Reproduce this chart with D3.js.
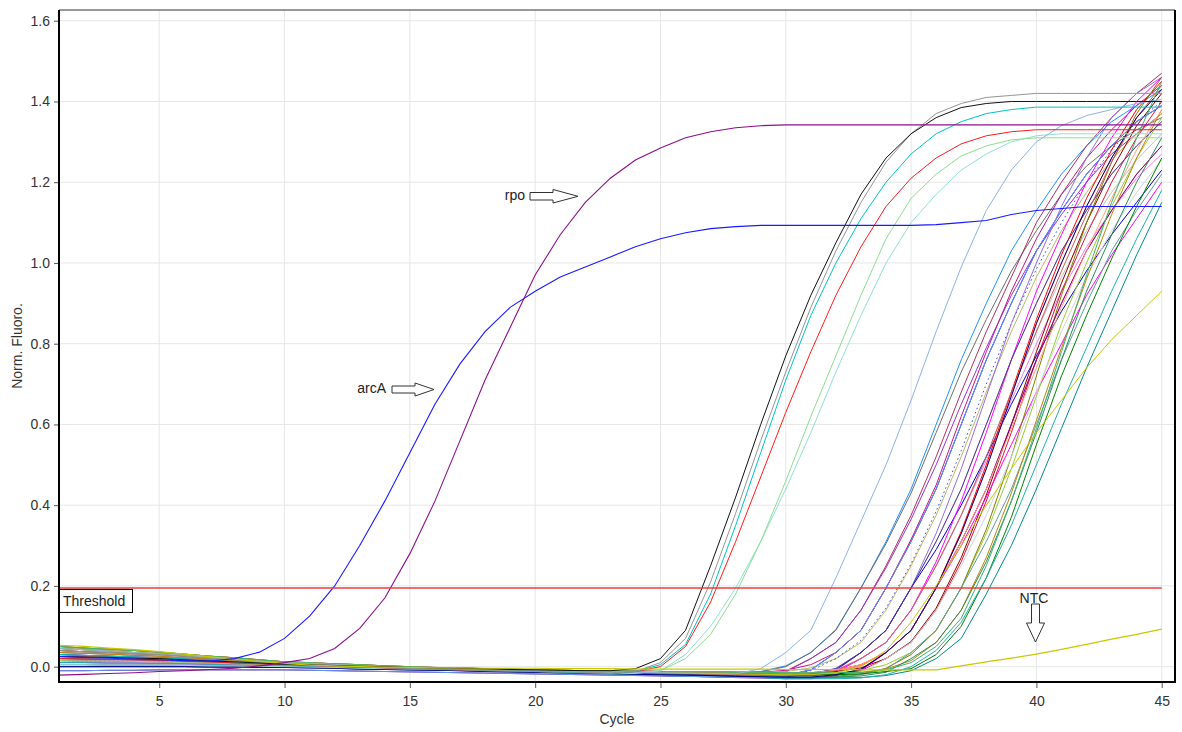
<!DOCTYPE html>
<html><head><meta charset="utf-8">
<script src="https://cdn.jsdelivr.net/npm/d3@7"></script>
<style>
body{margin:0;background:#fff;}
text{font-family:"Liberation Sans",Arial,sans-serif;}
</style>
</head><body>
<svg id="chart" width="1182" height="732"></svg>
<script>
// ---------------- data ----------------
const cycles = [1,2,3,4,5,6,7,8,9,10,11,12,13,14,15,16,17,18,19,20,21,22,23,24,25,26,27,28,29,30,31,32,33,34,35,36,37,38,39,40,41,42,43,44,45];
const xTicks = [5,10,15,20,25,30,35,40,45];
const yTicks = [0,0.2,0.4,0.6,0.8,1.0,1.2,1.4,1.6];
const thresholdValue = 0.195;

const arcA = [0.025,0.023,0.021,0.019,0.017,0.015,0.014,0.02,0.036,0.07,0.125,0.2,0.3,0.41,0.53,0.65,0.75,0.83,0.89,0.93,0.965,0.99,1.015,1.04,1.06,1.075,1.085,1.09,1.093,1.093,1.093,1.093,1.093,1.093,1.093,1.095,1.1,1.105,1.12,1.13,1.135,1.14,1.14,1.14,1.14];
const rpo = [-0.021,-0.019,-0.017,-0.015,-0.012,-0.01,-0.007,-0.004,0.002,0.01,0.02,0.045,0.095,0.17,0.28,0.41,0.56,0.71,0.84,0.97,1.07,1.15,1.21,1.255,1.285,1.31,1.325,1.335,1.34,1.342,1.342,1.342,1.342,1.342,1.342,1.342,1.342,1.342,1.342,1.342,1.342,1.342,1.342,1.342,1.342];
const ntc = [0.053,0.05,0.046,0.042,0.037,0.031,0.025,0.019,0.013,0.008,0.004,0.002,0.0,-0.001,-0.002,-0.003,-0.003,-0.004,-0.004,-0.004,-0.005,-0.005,-0.005,-0.006,-0.006,-0.006,-0.006,-0.006,-0.006,-0.007,-0.007,-0.007,-0.008,-0.008,-0.008,-0.008,0.002,0.012,0.021,0.031,0.043,0.055,0.068,0.08,0.093];

// middle group
const mBlack = [0.025,0.024,0.023,0.021,0.02,0.017,0.014,0.012,0.009,0.006,0.004,0.003,0.001,0.0,-0.002,-0.003,-0.004,-0.005,-0.007,-0.008,-0.009,-0.01,-0.01,-0.005,0.02,0.09,0.25,0.42,0.6,0.77,0.92,1.05,1.17,1.26,1.32,1.36,1.385,1.395,1.4,1.4,1.4,1.4,1.4,1.4,1.4];
const mGray = [0.04,0.037,0.035,0.032,0.03,0.026,0.021,0.017,0.012,0.008,0.006,0.003,0.0,-0.002,-0.004,-0.006,-0.007,-0.009,-0.01,-0.012,-0.013,-0.014,-0.016,-0.012,0.01,0.07,0.21,0.38,0.56,0.73,0.89,1.03,1.15,1.25,1.32,1.37,1.395,1.41,1.415,1.42,1.42,1.42,1.42,1.42,1.42];
const mCyan = [0.03,0.028,0.026,0.024,0.022,0.019,0.016,0.012,0.009,0.006,0.004,0.002,0.0,-0.002,-0.004,-0.006,-0.007,-0.009,-0.01,-0.012,-0.014,-0.015,-0.017,-0.012,0.005,0.055,0.18,0.35,0.53,0.71,0.87,1.0,1.11,1.2,1.27,1.32,1.35,1.37,1.38,1.386,1.386,1.386,1.386,1.386,1.386];
const mRed = [0.02,0.019,0.018,0.017,0.016,0.014,0.012,0.009,0.007,0.005,0.003,0.001,-0.001,-0.003,-0.005,-0.006,-0.008,-0.009,-0.011,-0.012,-0.014,-0.015,-0.017,-0.012,0.0,0.05,0.16,0.31,0.47,0.63,0.78,0.92,1.04,1.14,1.21,1.26,1.295,1.315,1.325,1.33,1.33,1.33,1.33,1.33,1.33];
const mGreen = [0.015,0.014,0.014,0.013,0.012,0.01,0.009,0.007,0.006,0.004,0.003,0.001,0.0,-0.002,-0.003,-0.004,-0.006,-0.007,-0.009,-0.01,-0.011,-0.012,-0.014,-0.015,-0.01,0.02,0.08,0.18,0.31,0.46,0.62,0.77,0.92,1.06,1.16,1.22,1.265,1.29,1.305,1.31,1.31,1.31,1.31,1.31,1.31];
const mPale = [0.005,0.005,0.004,0.004,0.004,0.003,0.002,0.002,0.001,0.0,-0.001,-0.002,-0.004,-0.005,-0.006,-0.007,-0.008,-0.01,-0.011,-0.012,-0.013,-0.015,-0.016,-0.017,-0.01,0.03,0.1,0.195,0.31,0.44,0.58,0.73,0.87,1.0,1.1,1.17,1.23,1.27,1.3,1.315,1.32,1.32,1.32,1.32,1.32];
const mSteel = [0.045,0.042,0.039,0.035,0.032,0.028,0.023,0.019,0.014,0.01,0.008,0.005,0.003,0.0,-0.002,-0.004,-0.005,-0.007,-0.008,-0.01,-0.011,-0.012,-0.013,-0.014,-0.015,-0.016,-0.017,-0.018,-0.005,0.035,0.09,0.22,0.36,0.5,0.66,0.83,0.99,1.13,1.23,1.3,1.34,1.365,1.38,1.395,1.405];

// late group
const L01 = [0.035,0.033,0.031,0.028,0.026,0.022,0.019,0.015,0.012,0.008,0.006,0.004,0.001,-0.001,-0.003,-0.004,-0.006,-0.007,-0.009,-0.01,-0.011,-0.012,-0.013,-0.014,-0.015,-0.016,-0.016,-0.017,-0.012,0.002,0.035,0.09,0.195,0.31,0.44,0.6,0.76,0.9,1.03,1.13,1.22,1.29,1.35,1.39,1.43];
const L02 = [0.045,0.042,0.039,0.035,0.032,0.028,0.023,0.019,0.014,0.01,0.008,0.005,0.003,0.0,-0.002,-0.004,-0.005,-0.007,-0.008,-0.01,-0.011,-0.012,-0.013,-0.014,-0.015,-0.016,-0.017,-0.018,-0.013,0.0,0.035,0.092,0.195,0.305,0.43,0.58,0.73,0.86,0.98,1.08,1.17,1.24,1.29,1.33,1.36];
const L03 = [0.04,0.037,0.035,0.032,0.03,0.026,0.021,0.017,0.012,0.008,0.006,0.003,0.0,-0.002,-0.004,-0.006,-0.007,-0.009,-0.01,-0.012,-0.013,-0.014,-0.016,-0.017,-0.018,-0.019,-0.02,-0.022,-0.02,-0.011,0.02,0.06,0.14,0.25,0.375,0.52,0.68,0.83,0.965,1.1,1.2,1.29,1.36,1.42,1.47];
const L04 = [0.03,0.028,0.026,0.024,0.022,0.019,0.016,0.012,0.009,0.006,0.004,0.002,0.0,-0.002,-0.004,-0.006,-0.007,-0.009,-0.01,-0.012,-0.014,-0.015,-0.017,-0.018,-0.02,-0.021,-0.022,-0.024,-0.022,-0.013,0.02,0.06,0.14,0.245,0.365,0.5,0.65,0.79,0.92,1.03,1.12,1.2,1.27,1.32,1.37];
const L05 = [0.02,0.019,0.018,0.017,0.016,0.014,0.012,0.009,0.007,0.005,0.003,0.001,-0.001,-0.003,-0.005,-0.006,-0.008,-0.009,-0.011,-0.012,-0.014,-0.015,-0.017,-0.018,-0.02,-0.022,-0.023,-0.025,-0.026,-0.022,-0.008,0.035,0.09,0.195,0.31,0.44,0.6,0.76,0.9,1.03,1.13,1.22,1.29,1.35,1.39];
const L06 = [0.05,0.046,0.043,0.04,0.036,0.031,0.026,0.022,0.017,0.012,0.01,0.007,0.005,0.002,0.0,-0.002,-0.003,-0.005,-0.006,-0.008,-0.009,-0.01,-0.01,-0.011,-0.012,-0.013,-0.013,-0.014,-0.014,-0.009,0.005,0.035,0.09,0.195,0.315,0.45,0.62,0.78,0.93,1.06,1.17,1.26,1.33,1.39,1.44];
const L07 = [0.025,0.024,0.023,0.021,0.02,0.017,0.014,0.012,0.009,0.006,0.004,0.003,0.001,0.0,-0.002,-0.003,-0.004,-0.005,-0.007,-0.008,-0.009,-0.01,-0.01,-0.011,-0.012,-0.013,-0.013,-0.014,-0.014,-0.012,-0.003,0.02,0.06,0.14,0.25,0.375,0.52,0.68,0.83,0.965,1.08,1.175,1.255,1.32,1.37];
const L08 = [0.015,0.014,0.014,0.013,0.012,0.01,0.009,0.007,0.006,0.004,0.003,0.001,0.0,-0.002,-0.003,-0.004,-0.006,-0.007,-0.009,-0.01,-0.011,-0.012,-0.014,-0.015,-0.016,-0.017,-0.018,-0.02,-0.021,-0.019,-0.01,0.02,0.065,0.145,0.255,0.385,0.535,0.7,0.85,0.985,1.1,1.2,1.28,1.35,1.4];
const L09 = [0.01,0.01,0.009,0.009,0.008,0.007,0.006,0.004,0.003,0.002,0.0,-0.001,-0.003,-0.004,-0.005,-0.007,-0.009,-0.011,-0.012,-0.014,-0.016,-0.017,-0.019,-0.02,-0.022,-0.024,-0.025,-0.027,-0.028,-0.03,-0.024,-0.01,0.035,0.09,0.195,0.31,0.44,0.6,0.76,0.9,1.03,1.13,1.22,1.29,1.35];
const L10 = [0.04,0.037,0.035,0.032,0.03,0.026,0.021,0.017,0.012,0.008,0.006,0.003,0.0,-0.002,-0.004,-0.006,-0.007,-0.009,-0.01,-0.012,-0.013,-0.014,-0.016,-0.017,-0.018,-0.019,-0.02,-0.022,-0.023,-0.024,-0.018,-0.004,0.035,0.09,0.195,0.33,0.49,0.67,0.85,1.0,1.14,1.26,1.36,1.42,1.46];
const L11 = [0.005,0.005,0.004,0.004,0.004,0.003,0.002,0.002,0.001,0.0,-0.001,-0.002,-0.004,-0.005,-0.006,-0.007,-0.008,-0.01,-0.011,-0.012,-0.013,-0.015,-0.016,-0.017,-0.018,-0.019,-0.021,-0.022,-0.024,-0.025,-0.022,-0.013,0.02,0.06,0.14,0.25,0.375,0.52,0.68,0.83,0.965,1.08,1.175,1.255,1.32];
const L12 = [0.0,0.0,0.0,0.0,0.0,0.0,-0.001,-0.001,-0.002,-0.002,-0.003,-0.004,-0.006,-0.007,-0.008,-0.009,-0.01,-0.012,-0.013,-0.014,-0.015,-0.016,-0.017,-0.019,-0.02,-0.021,-0.022,-0.024,-0.025,-0.026,-0.02,-0.008,0.035,0.09,0.195,0.29,0.4,0.52,0.65,0.77,0.88,0.98,1.07,1.15,1.23];
const L13 = [0.03,0.028,0.026,0.024,0.022,0.019,0.016,0.012,0.009,0.006,0.004,0.002,0.0,-0.002,-0.004,-0.006,-0.007,-0.009,-0.01,-0.012,-0.014,-0.015,-0.017,-0.018,-0.02,-0.021,-0.022,-0.024,-0.025,-0.026,-0.023,-0.014,0.02,0.06,0.14,0.26,0.41,0.58,0.76,0.93,1.07,1.2,1.31,1.4,1.46];
const L14 = [0.045,0.042,0.039,0.035,0.032,0.028,0.023,0.019,0.014,0.01,0.008,0.005,0.003,0.0,-0.002,-0.004,-0.005,-0.007,-0.008,-0.01,-0.011,-0.012,-0.013,-0.014,-0.015,-0.016,-0.017,-0.018,-0.019,-0.02,-0.017,-0.008,0.02,0.06,0.14,0.25,0.375,0.51,0.66,0.8,0.93,1.04,1.13,1.21,1.27];
const L15 = [0.02,0.019,0.018,0.017,0.016,0.014,0.012,0.009,0.007,0.005,0.003,0.001,-0.001,-0.003,-0.005,-0.006,-0.008,-0.009,-0.011,-0.012,-0.014,-0.015,-0.017,-0.018,-0.02,-0.022,-0.023,-0.025,-0.026,-0.028,-0.028,-0.022,-0.008,0.035,0.09,0.195,0.31,0.44,0.6,0.76,0.9,1.03,1.13,1.22,1.29];
const L16 = [0.035,0.033,0.031,0.028,0.026,0.022,0.019,0.015,0.012,0.008,0.006,0.004,0.001,-0.001,-0.003,-0.004,-0.006,-0.007,-0.009,-0.01,-0.011,-0.012,-0.013,-0.014,-0.015,-0.016,-0.016,-0.017,-0.017,-0.018,-0.018,-0.012,0.002,0.035,0.09,0.195,0.33,0.49,0.67,0.85,1.0,1.14,1.26,1.36,1.43];
const L17 = [0.05,0.046,0.043,0.04,0.036,0.031,0.026,0.022,0.017,0.012,0.01,0.007,0.005,0.002,0.0,-0.002,-0.003,-0.005,-0.006,-0.008,-0.009,-0.01,-0.01,-0.011,-0.012,-0.013,-0.013,-0.014,-0.014,-0.015,-0.015,-0.009,0.005,0.035,0.09,0.195,0.335,0.5,0.68,0.86,1.02,1.16,1.28,1.38,1.45];
const L18 = [0.015,0.014,0.014,0.013,0.012,0.01,0.009,0.007,0.006,0.004,0.003,0.001,0.0,-0.002,-0.003,-0.004,-0.006,-0.007,-0.009,-0.01,-0.011,-0.012,-0.014,-0.015,-0.016,-0.017,-0.018,-0.02,-0.021,-0.022,-0.022,-0.019,-0.01,0.02,0.06,0.14,0.26,0.41,0.58,0.76,0.93,1.07,1.2,1.31,1.4];
const L19 = [0.025,0.024,0.023,0.021,0.02,0.017,0.014,0.012,0.009,0.006,0.004,0.003,0.001,0.0,-0.002,-0.003,-0.004,-0.005,-0.007,-0.008,-0.009,-0.01,-0.01,-0.011,-0.012,-0.013,-0.013,-0.014,-0.014,-0.015,-0.015,-0.012,-0.003,0.02,0.062,0.145,0.27,0.425,0.6,0.78,0.95,1.1,1.23,1.34,1.42];
const L20 = [0.01,0.01,0.009,0.009,0.008,0.007,0.006,0.004,0.003,0.002,0.0,-0.001,-0.003,-0.004,-0.005,-0.007,-0.009,-0.011,-0.012,-0.014,-0.016,-0.017,-0.019,-0.02,-0.022,-0.024,-0.025,-0.027,-0.028,-0.03,-0.03,-0.025,-0.01,0.035,0.09,0.195,0.3,0.42,0.55,0.68,0.8,0.92,1.02,1.11,1.2];
const L21 = [0.05,0.046,0.043,0.04,0.036,0.031,0.026,0.022,0.017,0.012,0.01,0.007,0.005,0.002,0.0,-0.002,-0.003,-0.005,-0.006,-0.008,-0.009,-0.01,-0.01,-0.011,-0.012,-0.013,-0.013,-0.014,-0.014,-0.015,-0.015,-0.015,-0.01,0.005,0.035,0.09,0.195,0.33,0.49,0.67,0.85,1.0,1.14,1.26,1.36];
const L22 = [0.04,0.037,0.035,0.032,0.03,0.026,0.021,0.017,0.012,0.008,0.006,0.003,0.0,-0.002,-0.004,-0.006,-0.007,-0.009,-0.01,-0.012,-0.013,-0.014,-0.016,-0.017,-0.018,-0.019,-0.02,-0.022,-0.023,-0.024,-0.024,-0.024,-0.018,-0.004,0.03,0.09,0.195,0.34,0.52,0.72,0.92,1.1,1.25,1.37,1.46];
const L23 = [0.005,0.005,0.004,0.004,0.004,0.003,0.002,0.002,0.001,0.0,-0.001,-0.002,-0.004,-0.005,-0.006,-0.007,-0.008,-0.01,-0.011,-0.012,-0.013,-0.015,-0.016,-0.017,-0.018,-0.019,-0.021,-0.022,-0.024,-0.025,-0.025,-0.022,-0.013,0.02,0.06,0.14,0.25,0.375,0.52,0.68,0.83,0.965,1.08,1.175,1.255];
const L24 = [0.0,0.0,0.0,0.0,0.0,0.0,-0.001,-0.001,-0.002,-0.002,-0.003,-0.004,-0.006,-0.007,-0.008,-0.009,-0.01,-0.012,-0.013,-0.014,-0.015,-0.016,-0.017,-0.019,-0.02,-0.021,-0.022,-0.024,-0.025,-0.026,-0.026,-0.026,-0.02,-0.006,0.035,0.09,0.195,0.31,0.44,0.6,0.76,0.9,1.03,1.13,1.22];
const L25 = [-0.01,-0.01,-0.009,-0.009,-0.008,-0.008,-0.008,-0.008,-0.008,-0.008,-0.009,-0.01,-0.011,-0.012,-0.013,-0.014,-0.015,-0.016,-0.017,-0.018,-0.019,-0.02,-0.021,-0.022,-0.023,-0.024,-0.025,-0.026,-0.027,-0.028,-0.028,-0.022,-0.008,0.035,0.09,0.195,0.31,0.44,0.6,0.76,0.9,1.03,1.13,1.22,1.29];
const L26 = [0.035,0.033,0.031,0.028,0.026,0.022,0.019,0.015,0.012,0.008,0.006,0.004,0.001,-0.001,-0.003,-0.004,-0.006,-0.007,-0.009,-0.01,-0.011,-0.012,-0.013,-0.014,-0.015,-0.016,-0.016,-0.017,-0.017,-0.018,-0.018,-0.018,-0.015,-0.006,0.015,0.06,0.14,0.27,0.43,0.61,0.79,0.96,1.12,1.26,1.38];
const L27 = [0.03,0.028,0.026,0.024,0.022,0.019,0.016,0.012,0.009,0.006,0.004,0.002,0.0,-0.002,-0.004,-0.006,-0.007,-0.009,-0.01,-0.012,-0.014,-0.015,-0.017,-0.018,-0.02,-0.021,-0.022,-0.024,-0.025,-0.026,-0.026,-0.026,-0.023,-0.014,0.02,0.06,0.14,0.26,0.41,0.58,0.76,0.93,1.07,1.2,1.31];
const L28 = [0.045,0.042,0.039,0.035,0.032,0.028,0.023,0.019,0.014,0.01,0.008,0.005,0.003,0.0,-0.002,-0.004,-0.005,-0.007,-0.008,-0.01,-0.011,-0.012,-0.013,-0.014,-0.015,-0.016,-0.017,-0.018,-0.019,-0.02,-0.02,-0.02,-0.018,-0.012,-0.005,0.03,0.1,0.22,0.37,0.55,0.72,0.87,1.01,1.14,1.26];
const L29 = [0.02,0.019,0.018,0.017,0.016,0.014,0.012,0.009,0.007,0.005,0.003,0.001,-0.001,-0.003,-0.005,-0.006,-0.008,-0.009,-0.011,-0.012,-0.014,-0.015,-0.017,-0.018,-0.02,-0.022,-0.023,-0.025,-0.026,-0.028,-0.028,-0.028,-0.027,-0.022,-0.01,0.02,0.07,0.18,0.3,0.44,0.59,0.74,0.88,1.02,1.15];
const L30 = [0.01,0.01,0.009,0.009,0.008,0.007,0.006,0.004,0.003,0.002,0.0,-0.001,-0.003,-0.004,-0.005,-0.007,-0.009,-0.011,-0.012,-0.014,-0.016,-0.017,-0.019,-0.02,-0.022,-0.024,-0.025,-0.027,-0.028,-0.03,-0.03,-0.03,-0.028,-0.02,0.0,0.04,0.11,0.22,0.35,0.5,0.65,0.79,0.93,1.06,1.18];
const L31 = [0.005,0.005,0.004,0.004,0.004,0.003,0.002,0.002,0.001,0.0,-0.001,-0.002,-0.004,-0.005,-0.006,-0.007,-0.008,-0.01,-0.011,-0.012,-0.013,-0.015,-0.016,-0.017,-0.018,-0.019,-0.021,-0.022,-0.024,-0.025,-0.019,-0.005,0.035,0.09,0.195,0.31,0.44,0.6,0.76,0.9,1.03,1.13,1.22,1.29,1.35];
const L32 = [0.025,0.024,0.023,0.021,0.02,0.017,0.014,0.012,0.009,0.006,0.004,0.003,0.001,0.0,-0.002,-0.003,-0.004,-0.005,-0.007,-0.008,-0.009,-0.01,-0.01,-0.011,-0.012,-0.013,-0.013,-0.014,-0.014,-0.015,-0.015,-0.009,0.005,0.035,0.09,0.195,0.31,0.44,0.59,0.74,0.89,1.03,1.16,1.28,1.38];
const L33 = [0.015,0.014,0.014,0.013,0.012,0.01,0.009,0.007,0.006,0.004,0.003,0.001,0.0,-0.002,-0.003,-0.004,-0.006,-0.007,-0.009,-0.01,-0.011,-0.012,-0.014,-0.015,-0.016,-0.017,-0.018,-0.02,-0.021,-0.022,-0.019,-0.01,0.02,0.06,0.14,0.25,0.375,0.52,0.68,0.83,0.98,1.12,1.25,1.36,1.44];
const L34 = [-0.01,-0.01,-0.009,-0.009,-0.008,-0.008,-0.008,-0.008,-0.008,-0.008,-0.009,-0.01,-0.011,-0.012,-0.013,-0.014,-0.015,-0.016,-0.017,-0.018,-0.019,-0.02,-0.021,-0.022,-0.023,-0.024,-0.025,-0.026,-0.027,-0.021,-0.008,0.035,0.09,0.195,0.31,0.44,0.6,0.76,0.9,1.03,1.13,1.22,1.29,1.35,1.39];
const L35 = [0.0,0.0,0.0,0.0,0.0,0.0,-0.001,-0.001,-0.002,-0.002,-0.003,-0.004,-0.006,-0.007,-0.008,-0.009,-0.01,-0.012,-0.013,-0.014,-0.015,-0.016,-0.017,-0.019,-0.02,-0.021,-0.022,-0.024,-0.025,-0.026,-0.026,-0.02,-0.006,0.035,0.09,0.195,0.33,0.49,0.67,0.85,1.0,1.14,1.26,1.36,1.43];
const L36 = [0.05,0.046,0.043,0.04,0.036,0.031,0.026,0.022,0.017,0.012,0.01,0.007,0.005,0.002,0.0,-0.002,-0.003,-0.005,-0.006,-0.008,-0.009,-0.01,-0.01,-0.011,-0.012,-0.013,-0.013,-0.014,-0.014,-0.015,-0.015,-0.015,-0.014,-0.008,0.01,0.05,0.12,0.25,0.41,0.59,0.78,0.97,1.15,1.31,1.45];
const Y2 = [0.045,0.042,0.039,0.035,0.032,0.028,0.023,0.019,0.014,0.01,0.008,0.005,0.003,0.0,-0.002,-0.004,-0.005,-0.007,-0.008,-0.01,-0.011,-0.012,-0.013,-0.014,-0.015,-0.016,-0.017,-0.018,-0.019,-0.02,-0.02,-0.015,0.0,0.04,0.11,0.2,0.3,0.4,0.49,0.58,0.66,0.74,0.81,0.87,0.93];

const lateSeries = [L01,L02,L03,L04,L05,L06,L07,L08,L09,L10,L11,L12,L13,L14,L15,L16,L17,L18,L19,L20,L21,L22,L23,L24,L25,L26,L27,L28,L29,L30,L31,L32,L33,L34,L35,L36,Y2];
const lateColors = ["#1e90ff","#6e6e6e","#b03060","#9932cc","#0000ff","#c71585","#bdb76b","#2a4cd8","#dda0dd","#9370db","#c0c0c0","#0000cd","#ff00ff","#ee82ee","#ff69b4","#fa8072","#ff0000","#dc143c","#8b0000","#ff00ff","#9acd32","#808000","#d3d3d3","#5f9ea0","#800080","#b8860b","#2e8b57","#008000","#008b8b","#20b2aa","#483d8b","#ffa07a","#cd5c5c","#6495ed","#000080","#3cb371","#c8c800"];
const lateDash = [null,null,null,null,null,null,null,"1.5,3",null,null,null,null,null,null,null,null,null,null,null,null,null,null,null,null,null,null,null,null,null,null,null,null,null,null,null,null,null];

const midSeries = [mPale,mGreen,mSteel,mRed,mCyan,mGray,mBlack];
const midColors = ["#90e0d4","#90dc90","#8eb2e6","#ff1a1a","#00c4c4","#959595","#111111"];

// ---------------- drawing ----------------
const svg = d3.select("#chart");
const P = {left:59, right:1175, top:10, bottom:682};
const x = d3.scaleLinear().domain([1,45.53]).range([P.left,P.right]);
const y = d3.scaleLinear().domain([-0.038,1.6266]).range([P.bottom,P.top]);

svg.append("rect").attr("width",1182).attr("height",732).attr("fill","#fff");

svg.append("defs").append("clipPath").attr("id","clip")
  .append("rect").attr("x",P.left).attr("y",P.top).attr("width",P.right-P.left).attr("height",P.bottom-P.top);

// grid
const grid = svg.append("g");
grid.selectAll(".gx").data(xTicks).join("line")
  .attr("x1",d=>x(d)).attr("x2",d=>x(d)).attr("y1",P.top).attr("y2",P.bottom)
  .attr("stroke","#e6e6e6").attr("stroke-width",1);
grid.selectAll(".gy").data(yTicks).join("line")
  .attr("x1",P.left).attr("x2",P.right).attr("y1",d=>y(d)).attr("y2",d=>y(d))
  .attr("stroke","#e6e6e6").attr("stroke-width",1);

const line = d3.line().x((d,i)=>x(cycles[i])).y(d=>y(d));
const plotG = svg.append("g").attr("clip-path","url(#clip)");

lateSeries.forEach((s,i)=>{
  plotG.append("path").attr("d",line(s)).attr("fill","none")
    .attr("stroke",lateColors[i]).attr("stroke-width",1)
    .attr("stroke-dasharray",lateDash[i]);
});
midSeries.forEach((s,i)=>{
  plotG.append("path").attr("d",line(s)).attr("fill","none")
    .attr("stroke",midColors[i]).attr("stroke-width",1);
});
plotG.append("path").attr("d",line(ntc)).attr("fill","none").attr("stroke","#c8c800").attr("stroke-width",1.2);
plotG.append("path").attr("d",line(arcA)).attr("fill","none").attr("stroke","#1a1aff").attr("stroke-width",1.1);
plotG.append("path").attr("d",line(rpo)).attr("fill","none").attr("stroke","#8b108b").attr("stroke-width",1.1);

// threshold
svg.append("line").attr("x1",P.left).attr("x2",x(45)).attr("y1",y(thresholdValue)).attr("y2",y(thresholdValue))
  .attr("stroke","#f03c3c").attr("stroke-width",1.4);

// axes
const yAxis = d3.axisLeft(y).tickValues(yTicks).tickFormat(d3.format(".1f")).tickSize(5).tickPadding(4);
const gy = svg.append("g").attr("transform",`translate(${P.left},0)`).call(yAxis);
gy.select(".domain").remove();
gy.selectAll("line").attr("stroke","#555");
gy.selectAll("text").attr("font-size",14).attr("fill","#333").attr("font-family","Liberation Sans, Arial, sans-serif");

const xAxis = d3.axisBottom(x).tickValues(xTicks).tickFormat(d3.format("d")).tickSize(6).tickPadding(8);
const gx = svg.append("g").attr("transform",`translate(0,${P.bottom})`).call(xAxis);
gx.select(".domain").remove();
gx.selectAll("line").attr("stroke","#555");
gx.selectAll("text").attr("font-size",14).attr("fill","#333").attr("font-family","Liberation Sans, Arial, sans-serif");

// frame
svg.append("line").attr("x1",P.left).attr("x2",P.right).attr("y1",P.top).attr("y2",P.top).attr("stroke","#333").attr("stroke-width",1);
svg.append("line").attr("x1",P.left).attr("x2",P.left).attr("y1",P.top).attr("y2",P.bottom+1).attr("stroke","#000").attr("stroke-width",2);
svg.append("line").attr("x1",P.right).attr("x2",P.right).attr("y1",P.top).attr("y2",P.bottom+1).attr("stroke","#000").attr("stroke-width",2);
svg.append("line").attr("x1",P.left).attr("x2",P.right+1).attr("y1",P.bottom).attr("y2",P.bottom).attr("stroke","#000").attr("stroke-width",2);

// axis titles
svg.append("text").attr("x",617).attr("y",724).attr("text-anchor","middle").attr("font-size",14).attr("fill","#333").text("Cycle");
svg.append("text").attr("transform","translate(22,346) rotate(-90)").attr("text-anchor","middle").attr("font-size",14).attr("fill","#333").text("Norm. Fluoro.");

// threshold label
const ty = y(thresholdValue);
svg.append("rect").attr("x",P.left+0.5).attr("y",ty+1.5).attr("width",73).attr("height",23)
  .attr("fill","#fff").attr("stroke","#000").attr("stroke-width",1);
svg.append("text").attr("x",P.left+4).attr("y",ty+18.5).attr("font-size",14).attr("fill","#222").text("Threshold");

// annotations
const ann = svg.append("g").attr("fill","#fff").attr("stroke","#333").attr("stroke-width",1);
ann.append("path").attr("d","M530,192.5 L553,192.5 L553,189.5 L578,196.3 L553,203 L553,200 L530,200 Z");
ann.append("path").attr("d","M392,386 L415,386 L415,383 L434,389.5 L415,396 L415,393 L392,393 Z");
ann.append("path").attr("d","M1031.5,604 L1039.5,604 L1039.5,623 L1044.5,623 L1035.5,642 L1026.5,623 L1031.5,623 Z");

svg.append("text").attr("x",525).attr("y",200).attr("text-anchor","end").attr("font-size",14).attr("fill","#222").text("rpo");
svg.append("text").attr("x",386).attr("y",393).attr("text-anchor","end").attr("font-size",14).attr("fill","#222").text("arcA");
svg.append("text").attr("x",1034).attr("y",603).attr("text-anchor","middle").attr("font-size",14).attr("fill","#222").text("NTC");
</script>
</body></html>
